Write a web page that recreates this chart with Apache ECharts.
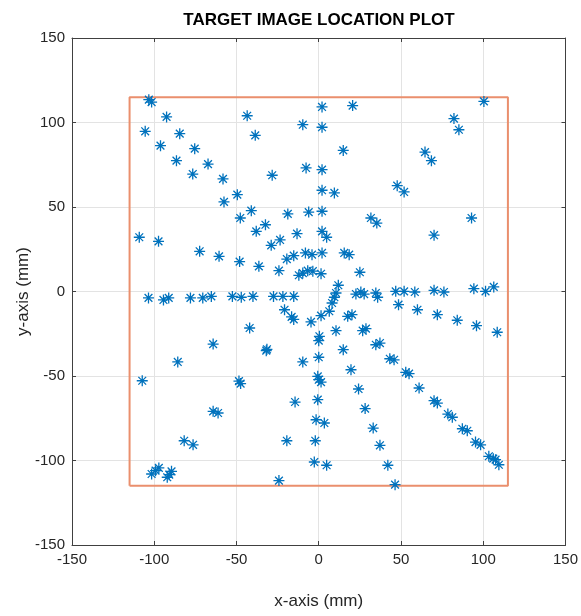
<!DOCTYPE html>
<html>
<head>
<meta charset="utf-8">
<script src="https://cdn.jsdelivr.net/npm/echarts@6/dist/echarts.min.js"></script>
<style>
    html, body { margin: 0; padding: 0; background: #fff; }
    #chart { width: 581px; height: 616px; }
</style>
</head>
<body>
<div id="chart"></div>
<script>
// target positions (mm)
var pointX = [
    -103.3, -101.6, -92.5, -105.5, -84.5, -96.2, -75.4, -86.5, -67.3, -76.6, -58.2, -57.6, -49.5,
    -43.5, -38.6, -9.7, 2, 2, 20.6, 14.9, -28.3, -7.7, 2, 2, 9.5, 47.7,
    100.4, 82.2, 85.2, 64.6, 68.5, 51.9,
    -47.7, -109.1, -97.4, -72.4, -60.6, -48.1, -103.5, -94.4, -91.2, -78, -70.5, -65.3, -52.5, -64.2, -85.7, -107.3,
    -41, -18.8, -6.1, 2, -38, -32.4, -13.2, 2, 4.8, 31.7, 35.3, -28.9, -23.5, -36.4, -19.4, -15.2, -8.1, -4.1, 2, 15.5, 18.5,
    -24.2, -12.1, -9.7, -6.7, -3.6, 1.4, 25, 11.9, 10.5, 9.5, 8.1, 6.4, 1.4, -4.7,
    -47.1, -40, -27.5, -21.8, -15.2, -20.8, -16.5, -15.2, 22.6, 25.6, 27.6, 34.7, 35.8, 46.8, 48.5, 17.6, 20.2,
    -42, 10.5, 26.7, 28.7, 0.4, 0, 34.7, 37.2, -31.9, -31.5, 0, 14.9, -9.7, 19.6, 43.2, 45.8, -0.6,
    92.9, 70.1, 51.9, 58.4, 70.1, 76.1, 94.3, 101.4, 106.4, 60, 72.1, 84.2, 95.9, 108.5, 52.9, 54.9,
    -48.5, -47.5, -64.2, -61.2, -81.8, -76.4, -101.6, -97.2, -99.2, -92.1, -89.5, -90.9,
    0, 1.4, 24.2, -14.4, -0.6, 28.2, -1.6, 3.4, 33.1, -19.4, -2.1, 37.2, -2.7, 4.8, 42, -24.2, 46.4,
    61, 70.1, 72.1, 78.5, 81.2, 87.3, 90.3, 95.3, 98.4, 103.4, 106.1, 107.5, 109.5
];
var pointY = [
    113.5, 112.1, 103.3, 94.8, 93.4, 86.3, 84.5, 77.4, 75.4, 69.5, 66.6, 53, 57.3,
    104, 92.4, 98.7, 109.2, 97.2, 110, 83.5, 68.8, 73.1, 72.1, 59.9, 58.3, 62.6,
    112.5, 102.3, 95.7, 82.5, 77.4, 58.9,
    43.5, 32.1, 29.7, 23.8, 20.8, 17.7, -3.8, -5, -3.8, -3.8, -3.8, -2.9, -2.9, -31.1, -41.7, -52.8,
    47.8, 45.9, 47, 47.5, 35.6, 39.5, 34.2, 35.6, 32.1, 43.5, 40.5, 27.3, 30.5, 14.9, 19.2, 21.2, 22.8, 21.8, 22.8, 22.8, 21.8,
    12.3, 9.6, 10.9, 12.3, 12, 10.5, 11.4, 3.7, -0.9, -3.4, -6.8, -11.7, -14.3, -18,
    -3.4, -2.9, -2.9, -2.9, -2.9, -10.8, -15, -16.5, -1.5, -0.3, -1.5, -0.9, -3.4, 0.1, -7.8, -14.7, -13.7,
    -21.6, -23.2, -23.2, -22, -26.5, -29.1, -31.5, -30.5, -35, -34.2, -38.9, -34.4, -41.7, -46.3, -39.8, -40.4, -50.2,
    43.5, 33.3, 0.1, -0.3, 0.7, -0.3, 1.7, 0.1, 2.7, -10.8, -13.7, -17, -20.2, -24.1, -47.8, -48.6,
    -53, -54.5, -70.9, -71.9, -88.3, -90.7, -108, -104.4, -106, -109.9, -106.4, -108.4,
    -52.2, -53.6, -57.7, -65.4, -64, -69.3, -75.9, -77.8, -80.8, -88.3, -88.3, -91, -100.9, -102.8, -102.8, -111.9, -114.3,
    -57.1, -64.6, -66, -72.5, -74.4, -81.2, -82.4, -89.1, -90.7, -97.5, -98.9, -99.5, -102.5
];
// imaging area outline
var rectX = [-115, 115, 115, -115, -115];
var rectY = [-115, -115, 115, 115, -115];

var axisMin = -150;
var axisMax = 150;
var axisStep = 50;

var FONT = "'Liberation Sans', Arial, sans-serif";
var AXIS_COLOR = "#404040";

var buildPairs = function (xs, ys) {
    var arr = [];
    for (var i = 0; i < xs.length; i++) {
        arr.push([xs[i], ys[i]]);
    }
    return arr;
};

var makeAxis = function (pos, isMain, name, nameGap) {
    return {
        type: "value",
        position: pos,
        min: axisMin,
        max: axisMax,
        interval: axisStep,
        name: isMain ? name : "",
        nameLocation: "middle",
        nameGap: nameGap,
        nameMoveOverlap: false,
        nameTextStyle: { fontFamily: FONT, fontSize: 17, color: "#262626" },
        axisLine: { show: true, onZero: false, lineStyle: { color: AXIS_COLOR, width: 1 } },
        axisTick: { show: true, inside: true, length: 4, lineStyle: { color: AXIS_COLOR } },
        axisLabel: { show: isMain, fontFamily: FONT, fontSize: 15, color: "#262626", margin: 7 },
        splitLine: { show: isMain, lineStyle: { color: "#e3e3e3", width: 1 } }
    };
};

var asterisk = "path://M0,-10L0,10M-10,0L10,0M-7.07,-7.07L7.07,7.07M-7.07,7.07L7.07,-7.07";

var myChart = echarts.init(document.getElementById("chart"), null, { renderer: "canvas" });
myChart.setOption({
    animation: false,
    backgroundColor: "#ffffff",
    title: {
        text: "TARGET IMAGE LOCATION PLOT",
        left: 314,
        textAlign: "center",
        top: 7,
        textStyle: { fontFamily: FONT, fontSize: 17, fontWeight: "bold", color: "#000" }
    },
    grid: { left: 72, right: 14, top: 38, bottom: 71 },
    xAxis: [
        makeAxis("bottom", true, "x-axis (mm)", 48),
        makeAxis("top", false, "", 0)
    ],
    yAxis: [
        makeAxis("left", true, "y-axis (mm)", 40),
        makeAxis("right", false, "", 0)
    ],
    series: [
        {
            type: "line",
            data: buildPairs(rectX, rectY),
            symbol: "none",
            lineStyle: { color: "#ea8f6d", width: 2 },
            z: 2
        },
        {
            type: "scatter",
            data: buildPairs(pointX, pointY),
            symbol: asterisk,
            symbolSize: 11,
            itemStyle: { color: "rgba(0,0,0,0)", borderColor: "#0072bd", borderWidth: 1.3, opacity: 1 },
            z: 3
        }
    ]
});
</script>
</body>
</html>
